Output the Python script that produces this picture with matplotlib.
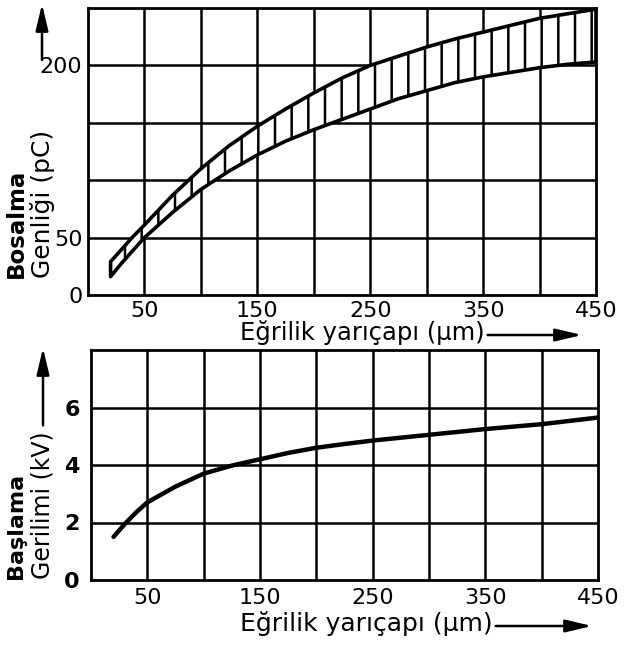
import numpy as np
import matplotlib.pyplot as plt
from matplotlib.patches import FancyArrowPatch

# ------------------------------------------------------------
# data
# ------------------------------------------------------------
radius_band  = [20, 30, 40, 50, 75, 100, 125, 150, 175, 200, 225,
                250, 275, 300, 325, 350, 375, 400, 425, 450]          # µm
charge_upper = [29, 40, 51, 61, 87, 110, 130, 147, 162, 176, 189,
                200, 208, 216, 223, 229, 235, 241, 245, 249]          # pC
charge_lower = [16, 28, 39, 50, 72, 92, 108, 122, 134, 144, 153,
                162, 171, 178, 185, 190, 194, 198, 201, 203]          # pC

radius_line = [20, 30, 40, 50, 75, 100, 125, 150, 175, 200, 225,
               250, 300, 350, 400, 450]                               # µm
voltage     = [1.5, 1.95, 2.35, 2.7, 3.25, 3.7, 3.98, 4.2, 4.42, 4.6, 4.73,
               4.85, 5.05, 5.25, 5.42, 5.65]                          # kV

x_ticks     = [50, 150, 250, 350, 450]
x_grid      = np.arange(0, 451, 50)
top_y_ticks = [0, 50, 200]
top_y_grid  = np.arange(0, 251, 50)
bot_y_ticks = [0, 2, 4, 6]
bot_y_grid  = np.arange(0, 9, 2)

XLABEL = "Eğrilik yarıçapı (µm)"

plt.rcParams["font.family"] = "DejaVu Sans"
plt.rcParams["hatch.linewidth"] = 1.8

W, H = 629, 648
fig = plt.figure(figsize=(W / 100, H / 100), dpi=100)

ax1 = fig.add_axes([88 / W, 1 - 295 / H, 508 / W, 287 / H])
ax2 = fig.add_axes([91 / W, 1 - 580 / H, 507 / W, 230 / H])


def style(ax, ygrid, ylim):
    ax.set_xlim(0, 450)
    ax.set_ylim(*ylim)
    for x in x_grid[1:-1]:
        ax.axvline(x, color="black", lw=1.8, zorder=1)
    for y in ygrid[1:-1]:
        ax.axhline(y, color="black", lw=1.8, zorder=1)
    for s in ax.spines.values():
        s.set_linewidth(2.0)
    ax.set_xticks(x_ticks)
    ax.tick_params(length=0, labelsize=16)


# ---------------- top: discharge amplitude band ----------------
style(ax1, top_y_grid, (0, 250))
ax1.fill_between(radius_band, charge_lower, charge_upper, facecolor="white",
                 edgecolor="black", hatch="|", linewidth=2.6, zorder=3,
                 joinstyle="round")
ax1.set_yticks(top_y_ticks)
ax1.tick_params(axis="x", pad=4)
ax1.tick_params(axis="y", pad=4)

# ---------------- bottom: inception voltage ----------------
style(ax2, bot_y_grid, (0, 8))
ax2.plot(radius_line, voltage, color="black", lw=3.2, solid_capstyle="round",
         solid_joinstyle="round", zorder=3)
ax2.set_yticks(bot_y_ticks)
ax2.tick_params(axis="x", pad=6)
ax2.tick_params(axis="y", pad=8)
for lab in ax2.get_yticklabels():
    lab.set_fontweight("bold")

# ---------------- y labels (two lines, rotated) ----------------
fig.text(16 / W, 1 - 278 / H, "Bosalma", rotation=90, ha="center", va="bottom",
         fontsize=16.5, fontweight="bold")
fig.text(43 / W, 1 - 278 / H, "Genliği (pC)", rotation=90, ha="center",
         va="bottom", fontsize=18)

fig.text(16 / W, 1 - 579 / H, "Başlama", rotation=90, ha="center", va="bottom",
         fontsize=16, fontweight="bold")
t_kv = fig.text(43 / W, 1 - 579 / H, "Gerilimi (kV)", rotation=90, ha="center",
                va="bottom", fontsize=17)

# ---------------- x labels ----------------
t1 = fig.text(240 / W, 1 - 333 / H, XLABEL, ha="left", va="center", fontsize=17.5)
t2 = fig.text(240 / W, 1 - 624 / H, XLABEL, ha="left", va="center", fontsize=18)

fig.canvas.draw()
r = fig.canvas.get_renderer()
bb1 = t1.get_window_extent(r)
bb2 = t2.get_window_extent(r)
bbkv = t_kv.get_window_extent(r)

arrow = dict(arrowstyle="-|>,head_length=1.6,head_width=0.38", color="black",
             lw=1.8, shrinkA=0, shrinkB=0, mutation_scale=10, transform=None)

# y-axis arrows
fig.add_artist(FancyArrowPatch((42, H - 60), (42, H - 4), **arrow))
fig.add_artist(FancyArrowPatch((43, bbkv.y1 + 6), (43, H - 348), **arrow))

# x-axis arrows
fig.add_artist(FancyArrowPatch((bb1.x1 + 3, H - 335), (582, H - 335), **arrow))
fig.add_artist(FancyArrowPatch((bb2.x1 + 3, H - 626), (592, H - 626), **arrow))

fig.savefig("out.png", dpi=100)
